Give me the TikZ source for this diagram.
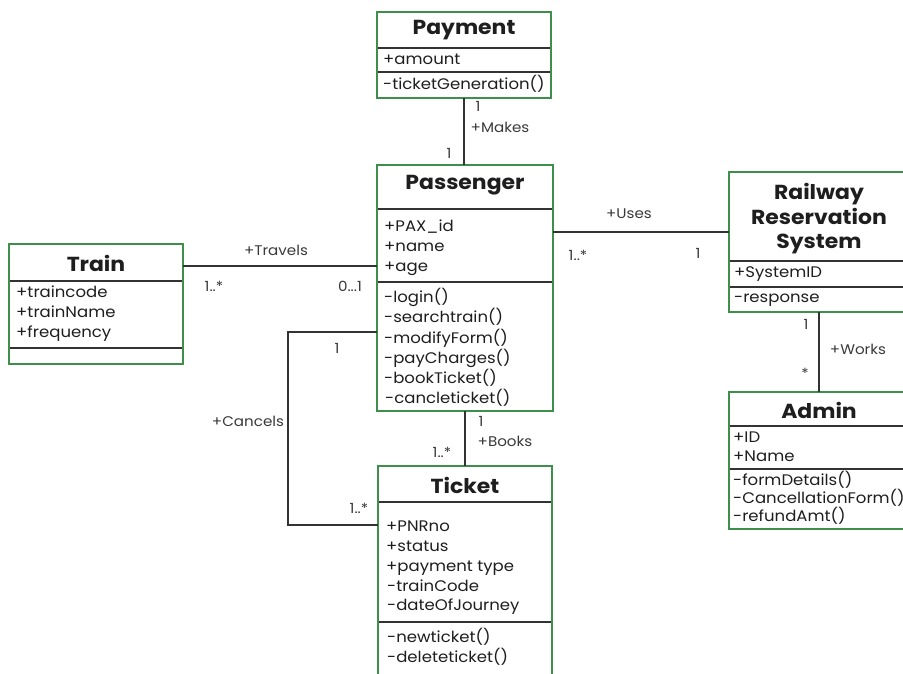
\documentclass[tikz,border=0pt]{standalone}
\usepackage{fontspec}
\setmainfont{Poppins}[FakeStretch=1.08]
\usetikzlibrary{calc}
\definecolor{boxgreen}{HTML}{3E8E4C}
\definecolor{ink}{HTML}{1E1E1E}
\definecolor{lbl}{HTML}{3A3A3A}
\definecolor{linec}{HTML}{333333}
\begin{document}
\begin{tikzpicture}[x=1pt,y=-1pt,
  cls/.style={draw=boxgreen,line width=2pt,fill=white,inner sep=0pt,outer sep=0pt,rectangle},
  divider/.style={draw=linec,line width=1.8pt,shorten <=1pt,shorten >=1pt},
  conn/.style={draw=linec,line width=2pt},
  attr/.style={anchor=west,inner sep=0pt,yshift=-1pt,text=ink,text height=10pt,text depth=3pt,font=\fontsize{15.3}{17}\selectfont},
  ttl/.style={anchor=center,inner sep=0pt,text=ink,align=center,font=\fontsize{20.3}{24.5}\selectfont\bfseries},
  lab/.style={anchor=center,inner sep=0pt,text=lbl,text height=9pt,text depth=3pt,font=\fontsize{14}{15}\selectfont}]
\useasboundingbox (0,0) rectangle (903,673);
\clip (0,0) rectangle (903,673);
\fill[white] (0,0) rectangle (903,673);

% class boxes
\node[cls,minimum width=174pt,minimum height=86pt] (pay) at (464,55) {};
\node[cls,minimum width=176pt,minimum height=246pt] (pass) at (465,288) {};
\node[cls,minimum width=174pt,minimum height=120pt] (train) at (96,304) {};
\node[cls,minimum width=180pt,minimum height=140pt] (rrs) at (819,242) {};
\node[cls,minimum width=180pt,minimum height=137pt] (admin) at (819,460.5) {};
\node[cls,minimum width=174pt,minimum height=219pt] (ticket) at (465,575.5) {};

% dividers
\draw[divider] (pay.west |- 0,48) -- (pay.east |- 0,48);
\draw[divider] (pay.west |- 0,72) -- (pay.east |- 0,72);
\draw[divider] (pass.west |- 0,209) -- (pass.east |- 0,209);
\draw[divider] (pass.west |- 0,282) -- (pass.east |- 0,282);
\draw[divider] (train.west |- 0,281) -- (train.east |- 0,281);
\draw[divider] (train.west |- 0,348) -- (train.east |- 0,348);
\draw[divider] (rrs.west |- 0,261) -- (rrs.east |- 0,261);
\draw[divider] (rrs.west |- 0,287) -- (rrs.east |- 0,287);
\draw[divider] (admin.west |- 0,426) -- (admin.east |- 0,426);
\draw[divider] (admin.west |- 0,469) -- (admin.east |- 0,469);
\draw[divider] (ticket.west |- 0,502) -- (ticket.east |- 0,502);
\draw[divider] (ticket.west |- 0,622) -- (ticket.east |- 0,622);

% titles
\node[ttl] (payT) at (464,30) {Payment};
\node[ttl] (passT) at (465,185) {Passenger};
\node[ttl] (trainT) at (96,263) {Train};
\node[ttl] (rrsT) at (819,219) {Railway\\Reservation\\System};
\node[ttl] (adminT) at (819,410) {Admin};
\node[ttl] (ticketT) at (465,485) {Ticket};

% Payment
\node[attr] (p1) at (383,60) {+amount};
\node[attr] (p2) at (383,85) {-ticketGeneration()};
% Passenger
\node[attr] (s1) at (384,227) {+PAX\_id};
\node[attr] (s2) at (384,247) {+name};
\node[attr] (s3) at (384,267) {+age};
\node[attr] (s4) at (384,298) {-login()};
\node[attr] (s5) at (384,318) {-searchtrain()};
\node[attr] (s6) at (384,339) {-modifyForm()};
\node[attr] (s7) at (384,359) {-payCharges()};
\node[attr] (s8) at (384,379) {-bookTicket()};
\node[attr] (s9) at (385,399) {-cancleticket()};
% Train
\node[attr] (t1) at (16,293) {+traincode};
\node[attr] (t2) at (16,313) {+trainName};
\node[attr] (t3) at (16,333) {+frequency};
% Railway Reservation System
\node[attr] (r1) at (734,273) {+SystemID};
\node[attr] (r2) at (734,298) {-response};
% Admin
\node[attr] (a1) at (733,438) {+ID};
\node[attr] (a2) at (733,457) {+Name};
\node[attr] (a3) at (733,481) {-formDetails()};
\node[attr] (a4) at (733,499) {-CancellationForm()};
\node[attr] (a5) at (733,517) {-refundAmt()};
% Ticket
\node[attr] (k1) at (386,527) {+PNRno};
\node[attr] (k2) at (386,547) {+status};
\node[attr] (k3) at (386,567) {+payment type};
\node[attr] (k4) at (387,587) {-trainCode};
\node[attr] (k5) at (387,606) {-dateOfJourney};
\node[attr] (k6) at (387,638) {-newticket()};
\node[attr] (k7) at (387,658) {-deleteticket()};

% connectors
\draw[conn] (pay.south) -- (pay.south |- pass.north);
\coordinate (tv) at (train.east |- 0,266);
\draw[conn] (tv) -- (tv -| pass.west);
\coordinate (us) at (pass.east |- 0,232);
\draw[conn] (us) -- (us -| rrs.west);
\coordinate (ca1) at (pass.west |- 0,332);
\coordinate (ca2) at (288,332);
\coordinate (ca3) at (288,525);
\draw[conn] (ca1) -- (ca2) -- (ca3) -- (ca3 -| ticket.west);
\draw[conn] (pass.south) -- (pass.south |- ticket.north);
\draw[conn] (rrs.south) -- (rrs.south |- admin.north);

% connector labels
\node[lab] (m1) at (478,108) {1};
\node[lab] (m2) at (500,129) {+Makes};
\node[lab] (m3) at (449,155) {1};
\node[lab] (v1) at (276,252) {+Travels};
\node[lab] (v2) at (214,288) {1..*};
\node[lab] (v3) at (350,288) {0...1};
\node[lab] (u1) at (629,215) {+Uses};
\node[lab] (u2) at (578,257) {1..*};
\node[lab] (u3) at (698,255) {1};
\node[lab] (c1) at (337,350) {1};
\node[lab] (c2) at (248,423) {+Cancels};
\node[lab] (c3) at (359,510) {1..*};
\node[lab] (b1) at (481,423) {1};
\node[lab] (b2) at (505,443) {+Books};
\node[lab] (b3) at (442,454) {1..*};
\node[lab] (w1) at (806,326) {1};
\node[lab] (w2) at (858,351) {+Works};
\node[lab] (w3) at (805,375) {*};
\end{tikzpicture}
\end{document}
